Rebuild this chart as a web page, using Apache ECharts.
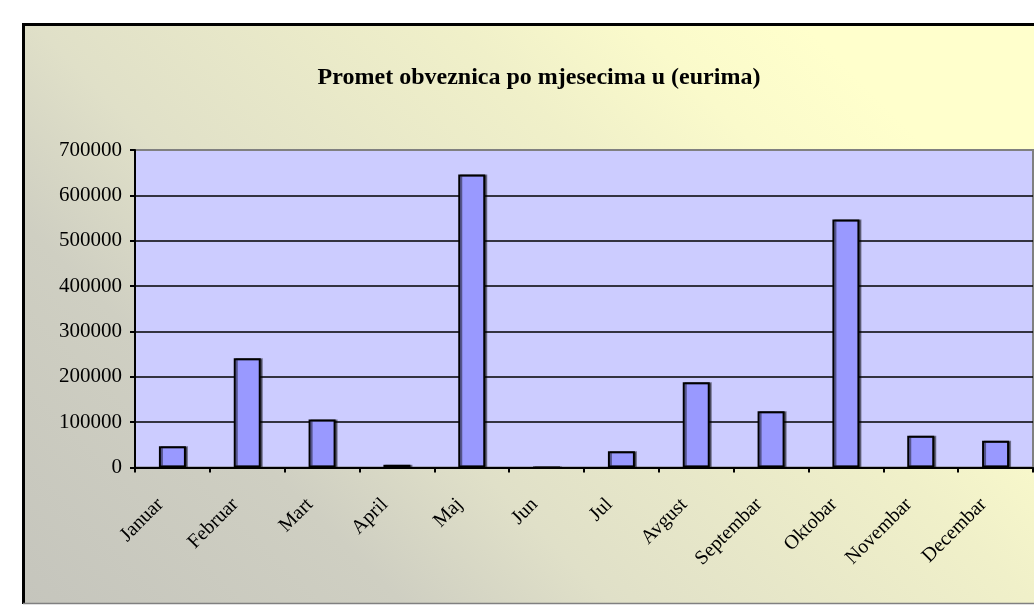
<!DOCTYPE html>
<html>
<head>
<meta charset="utf-8">
<script src="https://cdn.jsdelivr.net/npm/echarts@6/dist/echarts.min.js"></script>
<style>
html,body{margin:0;padding:0;background:#ffffff;}
#chart{width:1034px;height:605px;}
</style>
</head>
<body>
<div id="chart"></div>
<script>
const titleText = 'Promet obveznica po mjesecima u (eurima)';
const months = ['Januar','Februar','Mart','April','Maj','Jun','Jul','Avgust','Septembar','Oktobar','Novembar','Decembar'];
const values = [47000, 241000, 106000, 6000, 646000, 0, 36000, 188000, 124000, 547000, 70000, 59000];
const yMin = 0, yMax = 700000, yStep = 100000;

const chart = echarts.init(document.getElementById('chart'), null, {renderer:'canvas'});
const serif = '"Liberation Serif", "DejaVu Serif", serif';
chart.setOption({
  backgroundColor: '#ffffff',
  animation: false,
  graphic: [
    {
      type: 'rect', z: -10, silent: true,
      shape: {x: 23, y: 25, width: 1030, height: 578},
      style: {
        fill: {type:'linear', x:0, y:620, x2:700, y2:-80, global:true, colorStops:[
          {offset:0, color:'#c4c4bc'},
          {offset:0.3, color:'#cfcfc2'},
          {offset:0.45, color:'#e0e0c8'},
          {offset:0.75, color:'#f0f0c9'},
          {offset:0.88, color:'#fafacb'},
          {offset:1, color:'#ffffcc'}
        ]}
      }
    },
    {type:'line', z:-5, silent:true, shape:{x1:23, y1:24.5, x2:1040, y2:24.5}, style:{stroke:'#000000', lineWidth:3}},
    {type:'line', z:-5, silent:true, shape:{x1:23.5, y1:23, x2:23.5, y2:604}, style:{stroke:'#000000', lineWidth:3}},
    {type:'line', z:-5, silent:true, shape:{x1:23, y1:603.5, x2:1040, y2:603.5}, style:{stroke:'#808080', lineWidth:1.5}}
  ],
  title: {
    text: titleText, left: 534, textAlign: 'center', top: 61,
    textStyle: {fontFamily: serif, fontSize: 24, fontWeight: 'bold', color: '#000000'}
  },
  grid: {
    left: 135, top: 150, width: 898, height: 317.5,
    show: true, backgroundColor: '#ccccff', borderColor: '#808080', borderWidth: 2
  },
  xAxis: {
    type: 'category', data: months,
    axisLine: {lineStyle: {color: '#000000', width: 2}},
    axisTick: {show: true, inside: false, length: 5, lineStyle: {color:'#000000', width: 2}},
    axisLabel: {rotate: 45, margin: 22, padding: [0, 17, 0, 0], fontFamily: serif, fontSize: 20, color: '#000000'},
    splitLine: {show: false}
  },
  yAxis: {
    type: 'value', min: yMin, max: yMax, interval: yStep,
    axisLine: {show: true, lineStyle: {color: '#000000', width: 2}},
    axisTick: {show: true, inside: false, length: 5, lineStyle: {color:'#000000', width: 2}},
    axisLabel: {margin: 13, fontFamily: serif, fontSize: 21, color: '#000000', formatter: v => String(v)},
    splitLine: {show: true, showMaxLine: false, lineStyle: {color: '#000000', width: 1.5}}
  },
  series: [{
    type: 'bar', data: values, barWidth: 27,
    itemStyle: {color: '#9999ff', borderColor: '#000000', borderWidth: 2,
      shadowColor: 'rgba(0,0,0,0.45)', shadowOffsetX: 2, shadowOffsetY: 0, shadowBlur: 0}
  }]
});
</script>
</body>
</html>
